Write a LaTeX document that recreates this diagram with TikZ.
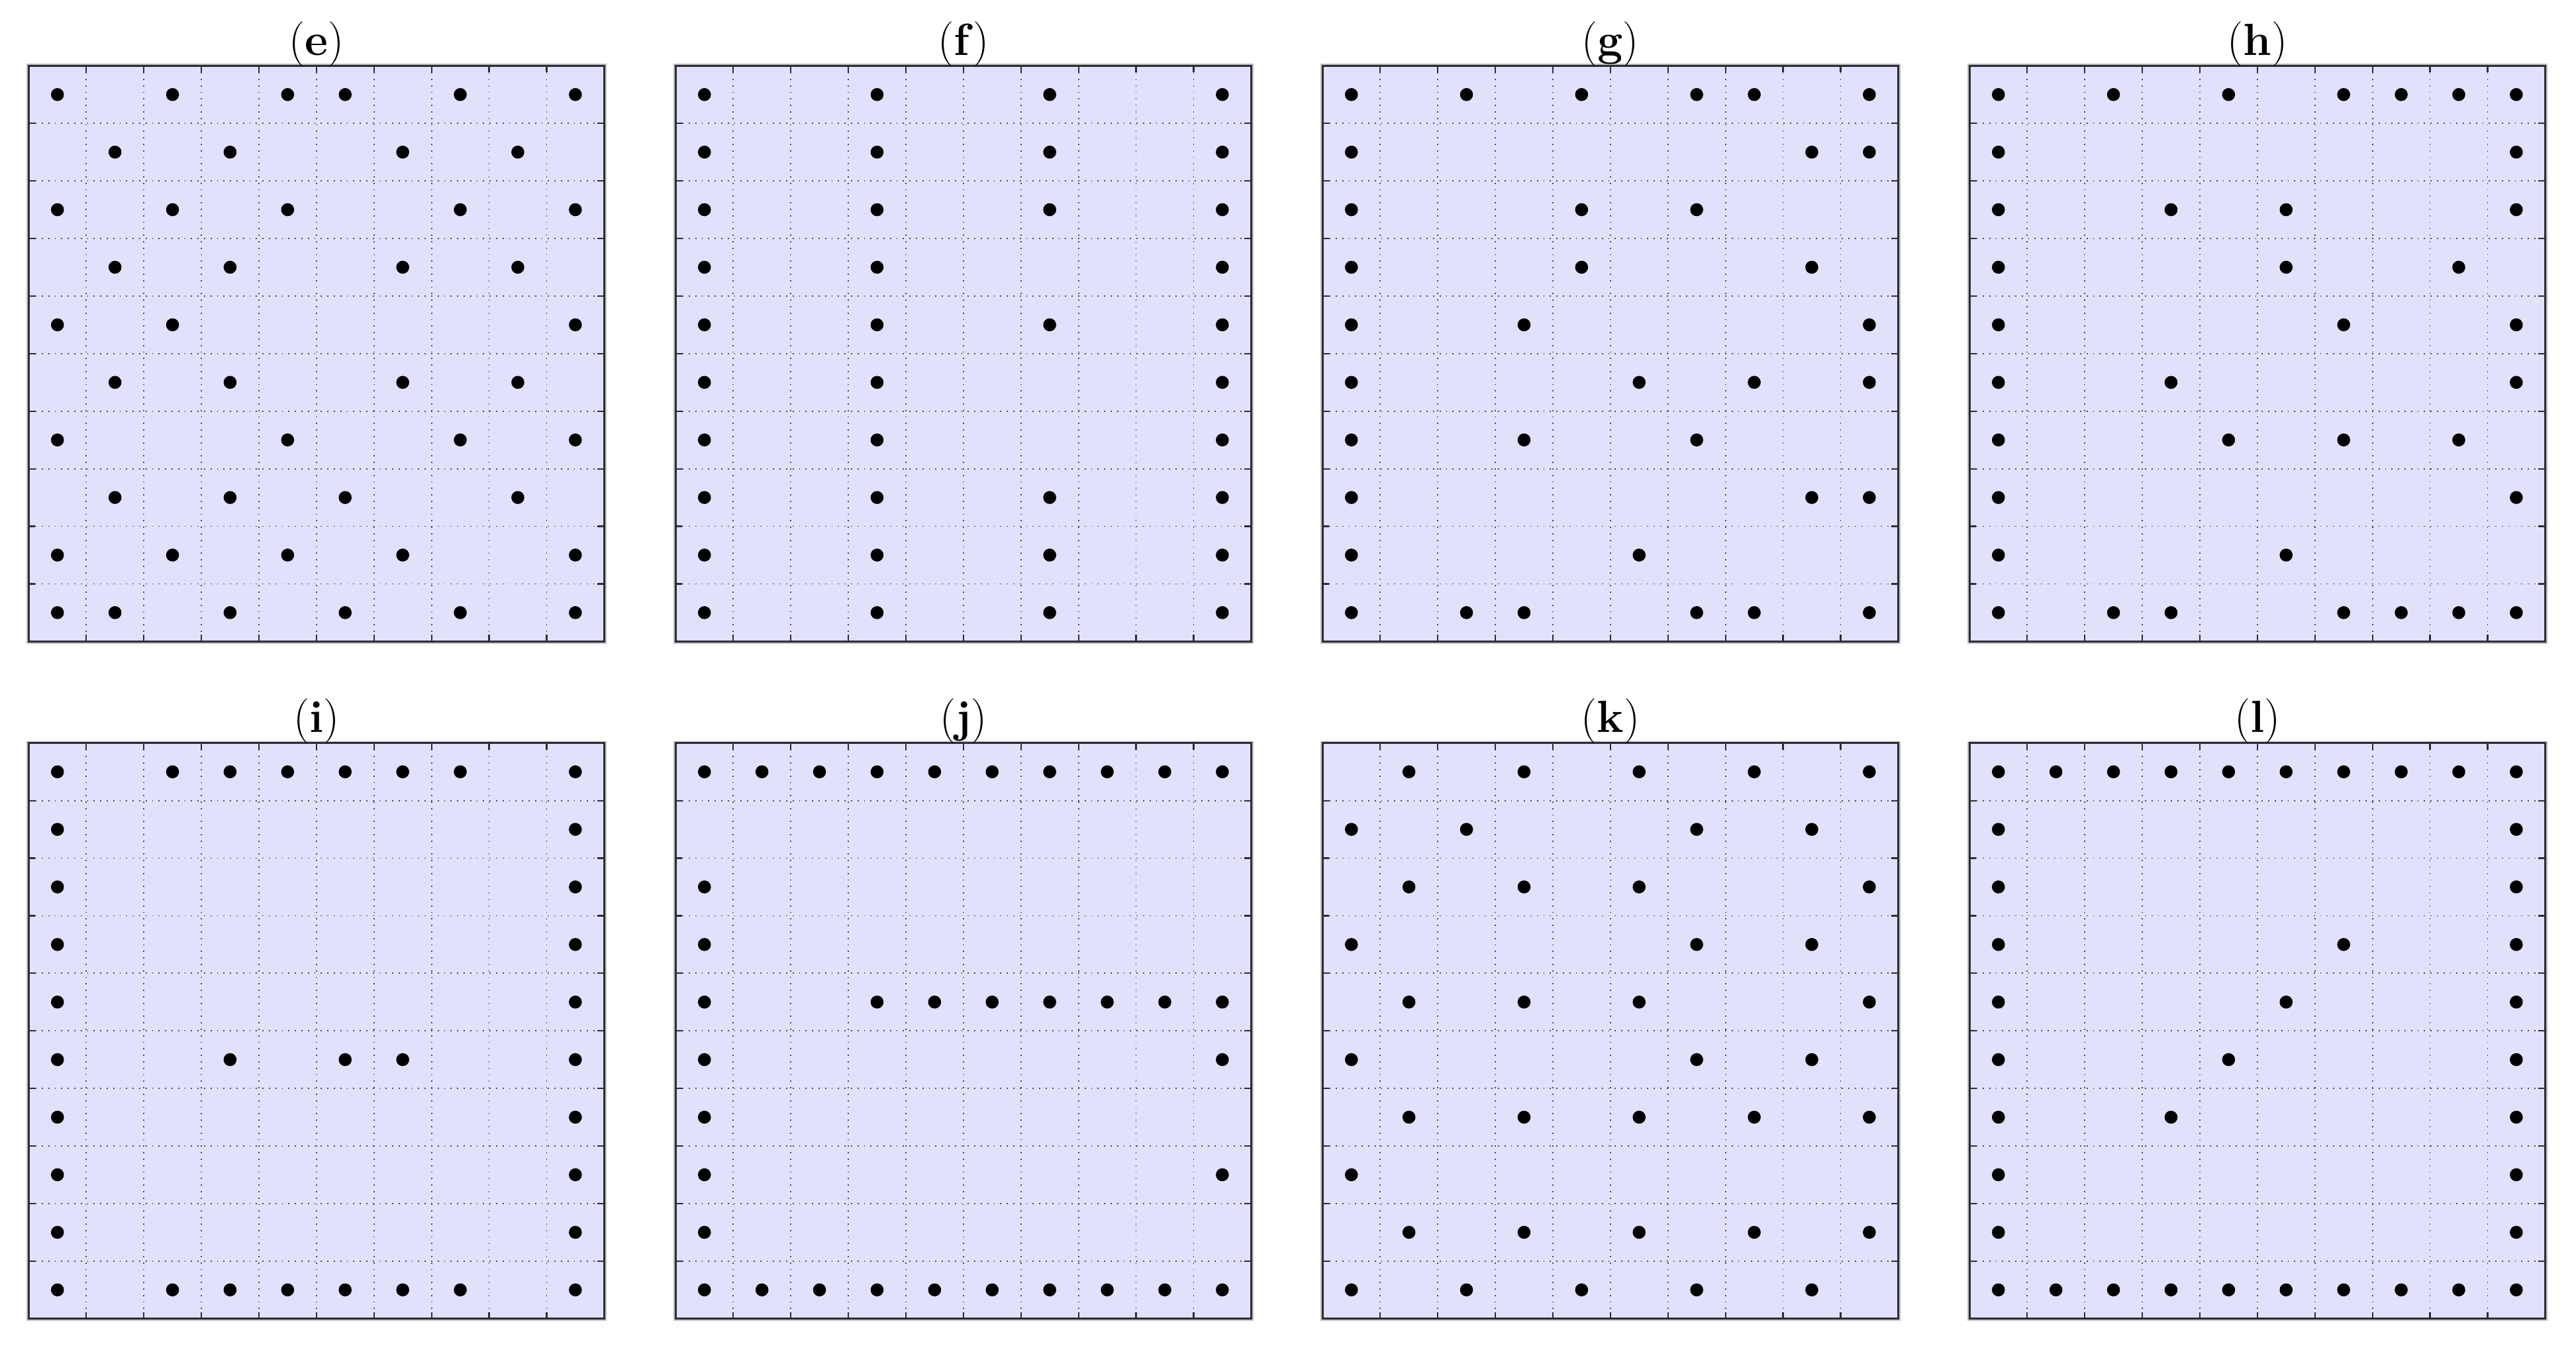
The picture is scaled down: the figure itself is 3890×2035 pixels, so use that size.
\documentclass[tikz,border=0pt]{standalone}
\usepackage{tikz}
\definecolor{panelbg}{RGB}{225,225,251}
\definecolor{framec}{RGB}{45,45,55}
\tikzset{
  halo/.style={draw=black!25, line width=1.6pt},
  panelfill/.style={fill=panelbg},
  gridl/.style={draw=black!70, line width=0.45pt, dotted},
  tickl/.style={draw=framec, line width=0.55pt},
  framel/.style={draw=framec, line width=0.7pt},
  dotc/.style={fill=black},
  paneltitle/.style={anchor=base, inner sep=0pt, font=\fontsize{17}{20}\selectfont}
}
\newcommand\mypanel[4]{%
  \begin{scope}[shift={(#1,#2)}]
    \draw[halo] (0,0) rectangle (869,869);
    \fill[panelfill] (0,0) rectangle (869,869);
    \foreach \k in {1,...,9} {
      \draw[gridl] (\k*86.9,0) -- (\k*86.9,869);
      \draw[gridl] (0,\k*86.9) -- (869,\k*86.9);
      \draw[tickl] (\k*86.9,0) -- (\k*86.9,10);
      \draw[tickl] (\k*86.9,869) -- (\k*86.9,859);
      \draw[tickl] (0,\k*86.9) -- (10,\k*86.9);
      \draw[tickl] (869,\k*86.9) -- (859,\k*86.9);
    }
    \draw[framel] (0,0) rectangle (869,869);
    \node[paneltitle] (t#3) at (434.5,-16) {(\textbf{#3})};
    \foreach \r [count=\j from 0] in {#4} {
      \foreach \i in \r {
        \ifnum\i>-1
          \fill[dotc] ({(\i+0.5)*86.9},{(\j+0.5)*86.9}) circle[radius=2.45pt];
        \fi
      }
    }
  \end{scope}}
\begin{document}
\begin{tikzpicture}[x=0.25pt,y=-0.25pt]
\useasboundingbox (0,0) rectangle (3890,2035);
\fill[white] (0,0) rectangle (3890,2035);
% (e)
\mypanel{43.3}{99.3}{e}{{0,2,4,5,7,9},{1,3,6,8},{0,2,4,7,9},{1,3,6,8},{0,2,9},{1,3,6,8},{0,4,7,9},{1,3,5,8},{0,2,4,6,9},{0,1,3,5,7,9}}
% (f)
\mypanel{1020.3}{99.3}{f}{{0,3,6,9},{0,3,6,9},{0,3,6,9},{0,3,9},{0,3,6,9},{0,3,9},{0,3,9},{0,3,6,9},{0,3,6,9},{0,3,6,9}}
% (g)
\mypanel{1997.3}{99.3}{g}{{0,2,4,6,7,9},{0,8,9},{0,4,6},{0,4,8},{0,3,9},{0,5,7,9},{0,3,6},{0,8,9},{0,5},{0,2,3,6,7,9}}
% (h)
\mypanel{2974.3}{99.3}{h}{{0,2,4,6,7,8,9},{0,9},{0,3,5,9},{0,5,8},{0,6,9},{0,3,9},{0,4,6,8},{0,9},{0,5},{0,2,3,6,7,8,9}}
% (i)
\mypanel{43.3}{1121.7}{i}{{0,2,3,4,5,6,7,9},{0,9},{0,9},{0,9},{0,9},{0,3,5,6,9},{0,9},{0,9},{0,9},{0,2,3,4,5,6,7,9}}
% (j)
\mypanel{1020.3}{1121.7}{j}{{0,1,2,3,4,5,6,7,8,9},{-1},{0},{0},{0,3,4,5,6,7,8,9},{0,9},{0},{0,9},{0},{0,1,2,3,4,5,6,7,8,9}}
% (k)
\mypanel{1997.3}{1121.7}{k}{{1,3,5,7,9},{0,2,6,8},{1,3,5,9},{0,6,8},{1,3,5,9},{0,6,8},{1,3,5,7,9},{0},{1,3,5,7,9},{0,2,4,6,8}}
% (l)
\mypanel{2974.3}{1121.7}{l}{{0,1,2,3,4,5,6,7,8,9},{0,9},{0,9},{0,6,9},{0,5,9},{0,4,9},{0,3,9},{0,9},{0,9},{0,1,2,3,4,5,6,7,8,9}}
\end{tikzpicture}
\end{document}
